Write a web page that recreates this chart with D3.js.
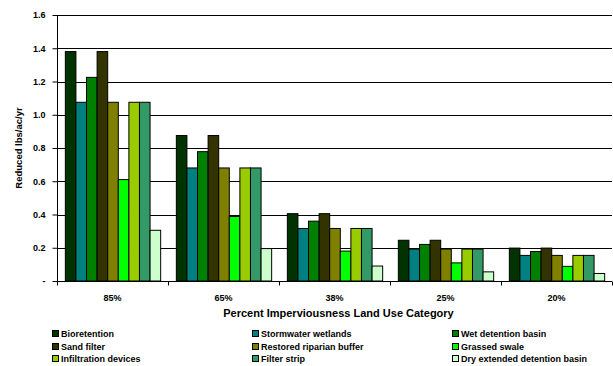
<!DOCTYPE html>
<html>
<head>
<meta charset="utf-8">
<script src="https://cdn.jsdelivr.net/npm/d3@7"></script>
<style>
  html, body { margin: 0; padding: 0; background: #fff; }
  svg { display: block; font-family: "Liberation Sans", Arial, sans-serif; font-weight: bold; }
</style>
</head>
<body>
<svg id="chart" width="613" height="366"></svg>
<script>
// Percent imperviousness land use categories
const categories = ["85%", "65%", "38%", "25%", "20%"];

// BMP types, in legend order
const bmps = [
  "Bioretention", "Stormwater wetlands", "Wet detention basin",
  "Sand filter", "Restored riparian buffer", "Grassed swale",
  "Infiltration devices", "Filter strip", "Dry extended detention basin"
];

const bmpColors = [
  "#003300", "#008080", "#008000",
  "#333300", "#808000", "#00FF00",
  "#99CC00", "#339966", "#CCFFCC"
];

// Reduction (lbs/ac/yr) per BMP, one value per category
const bioretention    = [1.38, 0.875, 0.405, 0.245, 0.198];
const stormwaterWet   = [1.075, 0.68, 0.316, 0.192, 0.154];
const wetDetention    = [1.225, 0.778, 0.36, 0.22, 0.177];
const sandFilter      = [1.38, 0.875, 0.405, 0.245, 0.198];
const riparianBuffer  = [1.075, 0.68, 0.316, 0.192, 0.154];
const grassedSwale    = [0.61, 0.388, 0.18, 0.109, 0.088];
const infiltration    = [1.075, 0.68, 0.316, 0.192, 0.154];
const filterStrip     = [1.075, 0.68, 0.316, 0.192, 0.154];
const dryDetention    = [0.305, 0.195, 0.09, 0.055, 0.045];

const seriesValues = [
  bioretention, stormwaterWet, wetDetention,
  sandFilter, riparianBuffer, grassedSwale,
  infiltration, filterStrip, dryDetention
];

const yTicks = [0, 0.2, 0.4, 0.6, 0.8, 1.0, 1.2, 1.4, 1.6];

const svg = d3.select("#chart");
const plot = { left: 57, right: 612, top: 15, bottom: 281 };

const x0 = d3.scaleBand().domain(categories).range([plot.left, plot.right]).paddingInner(0).paddingOuter(0);
const x1 = d3.scaleBand().domain(d3.range(bmps.length)).range([0, x0.bandwidth()]).paddingInner(0).paddingOuter(0.74);
const y = d3.scaleLinear().domain([0, 1.6]).range([plot.bottom, plot.top]);

// Gridlines
svg.append("g")
  .selectAll("line")
  .data(yTicks.filter(d => d > 0))
  .join("line")
  .attr("x1", plot.left).attr("x2", plot.right)
  .attr("y1", d => Math.round(y(d)) + 0.5).attr("y2", d => Math.round(y(d)) + 0.5)
  .attr("stroke", "#000").attr("stroke-width", 1);

// Bars
const groups = svg.append("g")
  .selectAll("g")
  .data(categories)
  .join("g")
  .attr("transform", c => `translate(${x0(c)},0)`);

groups.selectAll("rect")
  .data((c, ci) => seriesValues.map((vals, si) => ({ si, v: vals[ci] })))
  .join("rect")
  .attr("x", d => x1(d.si) + 0.5)
  .attr("width", x1.bandwidth())
  .attr("y", d => y(d.v))
  .attr("height", d => y(0) - y(d.v))
  .attr("fill", d => bmpColors[d.si])
  .attr("stroke", "#000")
  .attr("stroke-width", 1);

// Y axis
const yAxis = d3.axisLeft(y)
  .tickValues(yTicks)
  .tickSize(5)
  .tickPadding(7)
  .tickFormat(d => d === 0 ? "-" : d3.format(".1f")(d));

const yg = svg.append("g")
  .attr("transform", `translate(${plot.left + 0.5},0)`)
  .call(yAxis);
yg.select(".domain").attr("stroke", "#000").attr("d", `M0,${plot.top}V${plot.bottom}`);
yg.selectAll(".tick line").attr("stroke", "#000");
yg.selectAll(".tick text").attr("font-size", 9).attr("font-weight", "bold").attr("font-family", "Liberation Sans, Arial, sans-serif").attr("fill", "#000");

// X axis with tick marks between categories
const xg = svg.append("g").attr("transform", `translate(0,${plot.bottom + 0.5})`);
xg.append("line")
  .attr("x1", plot.left).attr("x2", plot.right)
  .attr("stroke", "#000");
xg.selectAll("line.tick")
  .data(categories.map(c => x0(c)).concat([plot.right]))
  .join("line")
  .attr("class", "tick")
  .attr("x1", d => Math.round(d) + 0.5).attr("x2", d => Math.round(d) + 0.5)
  .attr("y1", 0).attr("y2", 4)
  .attr("stroke", "#000");
xg.selectAll("text")
  .data(categories)
  .join("text")
  .attr("x", c => x0(c) + x0.bandwidth() / 2)
  .attr("y", 19.5)
  .attr("text-anchor", "middle")
  .attr("font-size", 9)
  .text(c => c);

// Axis titles
svg.append("text")
  .attr("x", (plot.left + plot.right) / 2 + 4)
  .attr("y", 317)
  .attr("text-anchor", "middle")
  .attr("font-size", 11)
  .text("Percent Imperviousness Land Use Category");

svg.append("text")
  .attr("transform", `translate(22,${(plot.top + plot.bottom) / 2}) rotate(-90)`)
  .attr("text-anchor", "middle")
  .attr("font-size", 9.5)
  .text("Reduced lbs/ac/yr");

// Legend: three columns, three rows
const legendCols = [52, 252, 452];
const legendRows = [334, 347, 359];
const legend = svg.append("g")
  .selectAll("g")
  .data(bmps)
  .join("g")
  .attr("transform", (d, i) => `translate(${legendCols[i % 3]},${legendRows[Math.floor(i / 3)]})`);
legend.append("rect")
  .attr("x", 0.5).attr("y", -3.5)
  .attr("width", 6).attr("height", 6)
  .attr("fill", (d, i) => bmpColors[i])
  .attr("stroke", "#000");
legend.append("text")
  .attr("x", 9)
  .attr("y", 3)
  .attr("font-size", 9)
  .text(d => d);
</script>
</body>
</html>
